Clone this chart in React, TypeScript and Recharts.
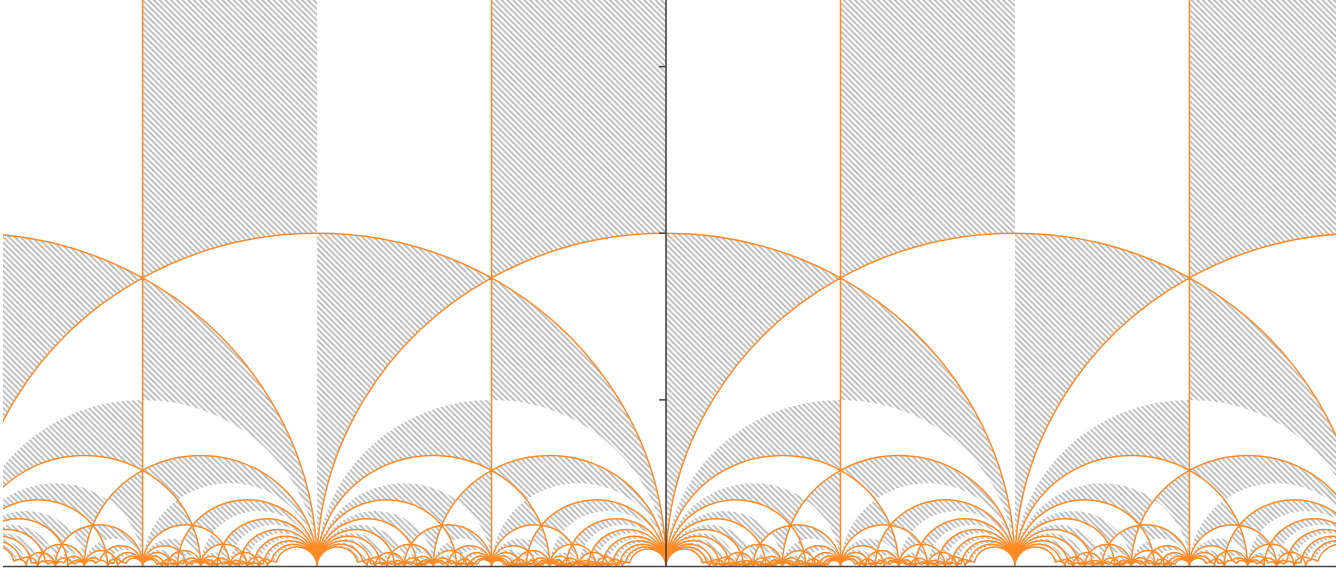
import React from 'react';
import * as RC from 'recharts';

const { ComposedChart, XAxis, YAxis, ReferenceLine, Customized } = RC as any;

// ---- chart values ----
const xDomain = [-1.9, 1.92];
const yDomain = [0, 1.7];
const xTicks = [-1.5, -1, -0.5, 0, 0.5, 1, 1.5];
const yTicks = [0.5, 1, 1.5];
// modular group generators S, T, T^-1 as [a, b, c, d]
const generators = [
  [0, -1, 1, 0],
  [1, 1, 0, 1],
  [1, -1, 0, 1],
];
const wordDepth = 10;
// vertices of the fundamental domain: rho, i, rho + 1 (the cusp is infinity)
const vertexX = [-0.5, 0, 0.5];
const vertexY = [0.8660254, 1, 0.8660254];

const orange = '#ff8a26';
const hatchColor = '#b6b6b6';
const axisColor = '#444444';

type Mat = number[];
type Pt = { x: number; y: number } | null;

const mul = (p: Mat, q: Mat): Mat => [
  p[0] * q[0] + p[1] * q[2],
  p[0] * q[1] + p[1] * q[3],
  p[2] * q[0] + p[3] * q[2],
  p[2] * q[1] + p[3] * q[3],
];
const norm = (m: Mat): Mat =>
  m[2] < 0 || (m[2] === 0 && m[3] < 0) ? m.map((v) => -v) : m;

function buildGroup(depth: number): Mat[] {
  const seen = new Map<string, Mat>();
  const id = [1, 0, 0, 1];
  seen.set(id.join(','), id);
  let frontier: Mat[] = [id];
  for (let d = 0; d < depth; d++) {
    const next: Mat[] = [];
    for (const g of frontier) {
      for (const h of generators) {
        const m = norm(mul(g, h));
        const k = m.join(',');
        if (!seen.has(k)) {
          seen.set(k, m);
          next.push(m);
        }
      }
    }
    frontier = next;
  }
  return Array.from(seen.values());
}

function mob(g: Mat, p: Pt): Pt {
  const [a, b, c, d] = g;
  if (p === null) return c === 0 ? null : { x: a / c, y: 0 };
  const nx = a * p.x + b;
  const ny = a * p.y;
  const mx = c * p.x + d;
  const my = c * p.y;
  const den = mx * mx + my * my;
  return { x: (nx * mx + ny * my) / den, y: (ny * mx - nx * my) / den };
}

const group = buildGroup(wordDepth);

const anyRC = RC as any;
const usePA = anyRC.usePlotArea || null;
const useOff = anyRC.useOffset || null;
const useCW = anyRC.useChartWidth || null;
const useCH = anyRC.useChartHeight || null;

function usePlotBox() {
  if (usePA) return usePA();
  const off = useOff ? useOff() : null;
  const w = useCW ? useCW() : null;
  const h = useCH ? useCH() : null;
  if (off && w && h) {
    return { x: off.left, y: off.top, width: w - off.left - off.right, height: h - off.top - off.bottom };
  }
  return null;
}

function Tessellation() {
  const box = usePlotBox();
  if (!box) return null;
  const sx = box.width / (xDomain[1] - xDomain[0]);
  const sy = box.height / (yDomain[1] - yDomain[0]);
  const px = (x: number) => +(box.x + (x - xDomain[0]) * sx).toFixed(2);
  const py = (y: number) => +(box.y + box.height - (y - yDomain[0]) * sy).toFixed(2);
  const yTop = yDomain[1] + 0.5;

  const seg = (P: { x: number; y: number }, Q: { x: number; y: number }) => {
    if (Math.abs(P.x - Q.x) < 1e-9) return `L${px(Q.x)},${py(Q.y)}`;
    const c = (P.x * P.x + P.y * P.y - Q.x * Q.x - Q.y * Q.y) / (2 * (P.x - Q.x));
    const r = Math.hypot(P.x - c, P.y);
    const tP = Math.atan2(P.y, P.x - c);
    const tQ = Math.atan2(Q.y, Q.x - c);
    return `A${(r * sx).toFixed(2)},${(r * sy).toFixed(2)} 0 0 ${tQ > tP ? 0 : 1} ${px(Q.x)},${py(Q.y)}`;
  };

  const rho = { x: vertexX[0], y: vertexY[0] };
  const ii = { x: vertexX[1], y: vertexY[1] };
  const rho1 = { x: vertexX[2], y: vertexY[2] };

  let hatchD = '';
  let lineD = '';
  const edgeSeen = new Set<string>();
  const addEdge = (P: { x: number; y: number }, Q: { x: number; y: number }) => {
    const k1 = `${P.x.toFixed(6)},${P.y.toFixed(6)}`;
    const k2 = `${Q.x.toFixed(6)},${Q.y.toFixed(6)}`;
    const k = k1 < k2 ? k1 + '|' + k2 : k2 + '|' + k1;
    if (edgeSeen.has(k)) return;
    edgeSeen.add(k);
    lineD += `M${px(P.x)},${py(P.y)}` + seg(P, Q);
  };

  for (const g of group) {
    const vInf = mob(g, null);
    const vR = mob(g, rho)!;
    const vI = mob(g, ii)!;
    const vR1 = mob(g, rho1)!;
    const xs = [vR.x, vI.x, vR1.x, vInf ? vInf.x : vI.x];
    if (Math.max(...xs) < xDomain[0] - 0.3 || Math.min(...xs) > xDomain[1] + 0.3) continue;
    if (vI.y < 0.0008) continue;
    // hatched half: image of the left half of the fundamental domain
    if (vInf === null) {
      const A = { x: vR.x, y: yTop };
      const B = { x: vI.x, y: yTop };
      hatchD += `M${px(A.x)},${py(A.y)}` + seg(A, vR) + seg(vR, vI) + seg(vI, B) + 'Z';
      addEdge(vR, A);
      addEdge(vR1, { x: vR1.x, y: yTop });
    } else {
      hatchD += `M${px(vInf.x)},${py(vInf.y)}` + seg(vInf, vR) + seg(vR, vI) + seg(vI, vInf) + 'Z';
      addEdge(vR, vInf);
      addEdge(vR1, vInf);
    }
    addEdge(vR, vR1);
  }

  const P = 5.7;
  return (
    <g>
      <defs>
        <clipPath id="plotClip">
          <rect x={box.x} y={box.y} width={box.width} height={box.height} />
        </clipPath>
        <pattern id="hatchPat" patternUnits="userSpaceOnUse" width={P} height={P}>
          <path
            d={`M-1,-1L${P + 1},${P + 1}M-1,${P - 1}L1,${P + 1}M${P - 1},-1L${P + 1},1`}
            stroke={hatchColor}
            strokeWidth={1.8}
          />
        </pattern>
      </defs>
      <g clipPath="url(#plotClip)">
        <path d={hatchD} fill="url(#hatchPat)" stroke="none" />
        <path d={lineD} fill="none" stroke={orange} strokeWidth={1.5} strokeLinejoin="round" />
      </g>
    </g>
  );
}

export default function App() {
  return (
    <div style={{ position: 'absolute', left: 0, top: 0, width: 1336, height: 576, background: '#fff' }}>
      <ComposedChart width={1336} height={576} data={[]} margin={{ top: 0, right: 0, bottom: 0, left: 3 }}>
        <XAxis
          type="number"
          dataKey="x"
          domain={xDomain}
          ticks={xTicks}
          allowDataOverflow
          height={9.5}
          tick={false}
          tickSize={8}
          tickLine={{ stroke: axisColor, strokeWidth: 1.5 }}
          axisLine={{ stroke: axisColor, strokeWidth: 1.6 }}
        />
        <YAxis type="number" dataKey="y" domain={yDomain} allowDataOverflow hide width={0} />
        <Customized component={Tessellation} />
        <ReferenceLine x={0} stroke={axisColor} strokeWidth={1.6} isFront />
        {yTicks.map((t) => (
          <ReferenceLine
            key={t}
            segment={[{ x: -0.02, y: t }, { x: 0, y: t }]}
            stroke={axisColor}
            strokeWidth={1.5}
            isFront
          />
        ))}
      </ComposedChart>
    </div>
  );
}
